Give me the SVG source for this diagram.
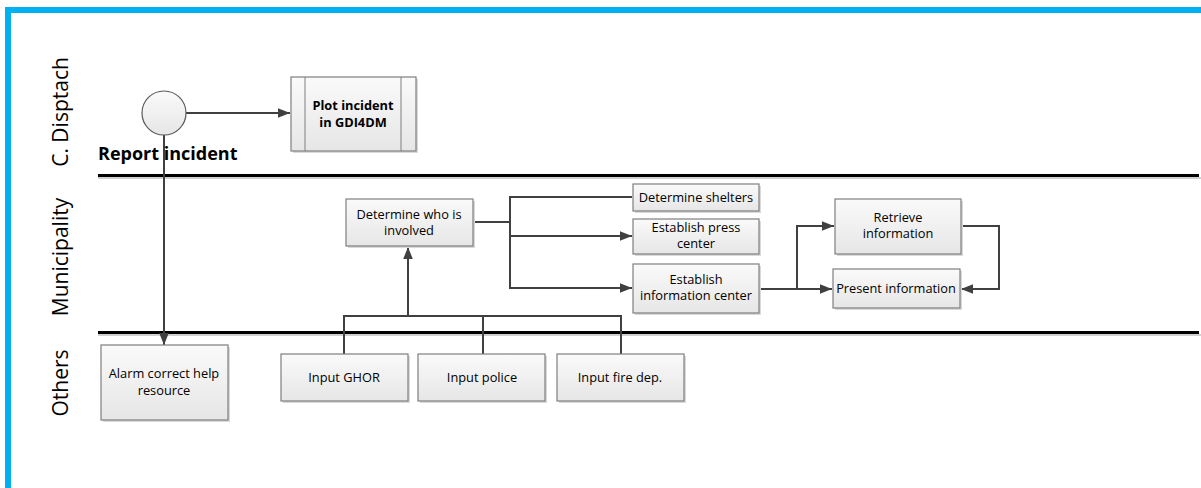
<svg xmlns="http://www.w3.org/2000/svg" width="1201" height="488" viewBox="0 0 1201 488">
<style>
.box{fill:url(#g);stroke:#7f7f7f;stroke-width:1.2}
.sh{fill:#d9d9d9}
.t{font-family:"Open Sans","Liberation Sans",sans-serif;font-size:12.8px;fill:#000;text-anchor:middle}
.lane{font-family:"Open Sans","Liberation Sans",sans-serif;font-size:21px;fill:#000;text-anchor:middle}
.c{fill:none;stroke:#404040;stroke-width:2}
.sep{stroke:#000;stroke-width:3}
.seps{stroke:#d0d0d0;stroke-width:2}
</style>
<defs>
<linearGradient id="g" x1="0" y1="0" x2="0" y2="1">
<stop offset="0" stop-color="#fafafa"/>
<stop offset="1" stop-color="#e6e6e6"/>
</linearGradient>
<marker id="a" viewBox="0 0 10 10" refX="10" refY="5" markerWidth="6" markerHeight="6" orient="auto" markerUnits="strokeWidth">
<path d="M0,1 L10,5 L0,9 z" fill="#404040"/>
</marker>
</defs>
<rect width="1201" height="488" fill="#fff"/>
<path d="M8,488 V10 H1201" fill="none" stroke="#00b0f0" stroke-width="6"/>
<g id="lanes">
<line class="seps" x1="98" y1="178" x2="1201" y2="178"/>
<line class="sep" x1="98" y1="175.5" x2="1199" y2="175.5"/>
<line class="seps" x1="98" y1="335" x2="1201" y2="335"/>
<line class="sep" x1="98" y1="332.5" x2="1199" y2="332.5"/>
<text class="lane" transform="translate(68,112) rotate(-90)">C. Disptach</text>
<text class="lane" transform="translate(68,257) rotate(-90)">Municipality</text>
<text class="lane" transform="translate(68,383) rotate(-90)">Others</text>
</g>
<g id="connectors">
<line class="c" x1="186" y1="113" x2="290" y2="113" marker-end="url(#a)"/>
<line class="c" x1="164" y1="135" x2="164" y2="345" stroke-width="1.6" marker-end="url(#a)"/>
<polyline class="c" points="344,354 344,316 621,316 621,354"/>
<line class="c" x1="483" y1="316" x2="483" y2="354"/>
<line class="c" x1="408" y1="316" x2="408" y2="247" marker-end="url(#a)"/>
<polyline class="c" points="473,222 510,222"/>
<polyline class="c" points="632,197 510,197 510,288 632,288" marker-end="url(#a)"/>
<line class="c" x1="510" y1="236" x2="632" y2="236" marker-end="url(#a)"/>
<line class="c" x1="759" y1="289" x2="832" y2="289" marker-end="url(#a)"/>
<polyline class="c" points="797,289 797,226 834,226" marker-end="url(#a)"/>
<polyline class="c" points="961,226 999,226 999,289 961,289" marker-end="url(#a)"/>
</g>
<g id="start">
<circle cx="164" cy="113" r="22" fill="url(#g)" stroke="#595959" stroke-width="1.2"/>
<text x="98" y="160" font-family="Open Sans,Liberation Sans,sans-serif" font-size="18" font-weight="bold">Report incident</text>
</g>
<g id="plot">
<rect class="sh" x="293" y="79" width="125" height="74"/>
<rect class="box" x="291" y="77" width="125" height="74"/>
<line x1="305" y1="77" x2="305" y2="151" stroke="#7f7f7f"/>
<line x1="401" y1="77" x2="401" y2="151" stroke="#7f7f7f"/>
<text class="t" x="353" y="110" font-weight="bold">Plot incident</text>
<text class="t" x="353" y="127" font-weight="bold">in GDI4DM</text>
</g>
<g id="who">
<rect class="sh" x="348" y="201" width="127" height="47"/>
<rect class="box" x="346" y="199" width="127" height="47"/>
<text class="t" x="409" y="219">Determine who is</text>
<text class="t" x="409" y="235">involved</text>
</g>
<g id="shelters">
<rect class="sh" x="635" y="186" width="126" height="27"/>
<rect class="box" x="633" y="184" width="126" height="27"/>
<text class="t" x="696" y="202">Determine shelters</text>
</g>
<g id="press">
<rect class="sh" x="635" y="221" width="126" height="35"/>
<rect class="box" x="633" y="219" width="126" height="35"/>
<text class="t" x="696" y="232">Establish press</text>
<text class="t" x="696" y="248">center</text>
</g>
<g id="infocenter">
<rect class="sh" x="635" y="266" width="126" height="49"/>
<rect class="box" x="633" y="264" width="126" height="49"/>
<text class="t" x="696" y="284">Establish</text>
<text class="t" x="696" y="300">information center</text>
</g>
<g id="retrieve">
<rect class="sh" x="837" y="201" width="126" height="55"/>
<rect class="box" x="835" y="199" width="126" height="55"/>
<text class="t" x="898" y="222">Retrieve</text>
<text class="t" x="898" y="238">information</text>
</g>
<g id="present">
<rect class="sh" x="835" y="271" width="127" height="39"/>
<rect class="box" x="833" y="269" width="127" height="39"/>
<text class="t" x="896" y="293">Present information</text>
</g>
<g id="alarm">
<rect class="sh" x="103" y="347" width="127" height="75"/>
<rect class="box" x="101" y="345" width="127" height="75"/>
<text class="t" x="164" y="378">Alarm correct help</text>
<text class="t" x="164" y="395">resource</text>
</g>
<g id="ghor">
<rect class="sh" x="283" y="356" width="127" height="47"/>
<rect class="box" x="281" y="354" width="127" height="47"/>
<text class="t" x="344" y="382">Input GHOR</text>
</g>
<g id="police">
<rect class="sh" x="420" y="356" width="127" height="47"/>
<rect class="box" x="418" y="354" width="127" height="47"/>
<text class="t" x="482" y="382">Input police</text>
</g>
<g id="fire">
<rect class="sh" x="559" y="356" width="127" height="47"/>
<rect class="box" x="557" y="354" width="127" height="47"/>
<text class="t" x="620" y="382">Input fire dep.</text>
</g>
</svg>
